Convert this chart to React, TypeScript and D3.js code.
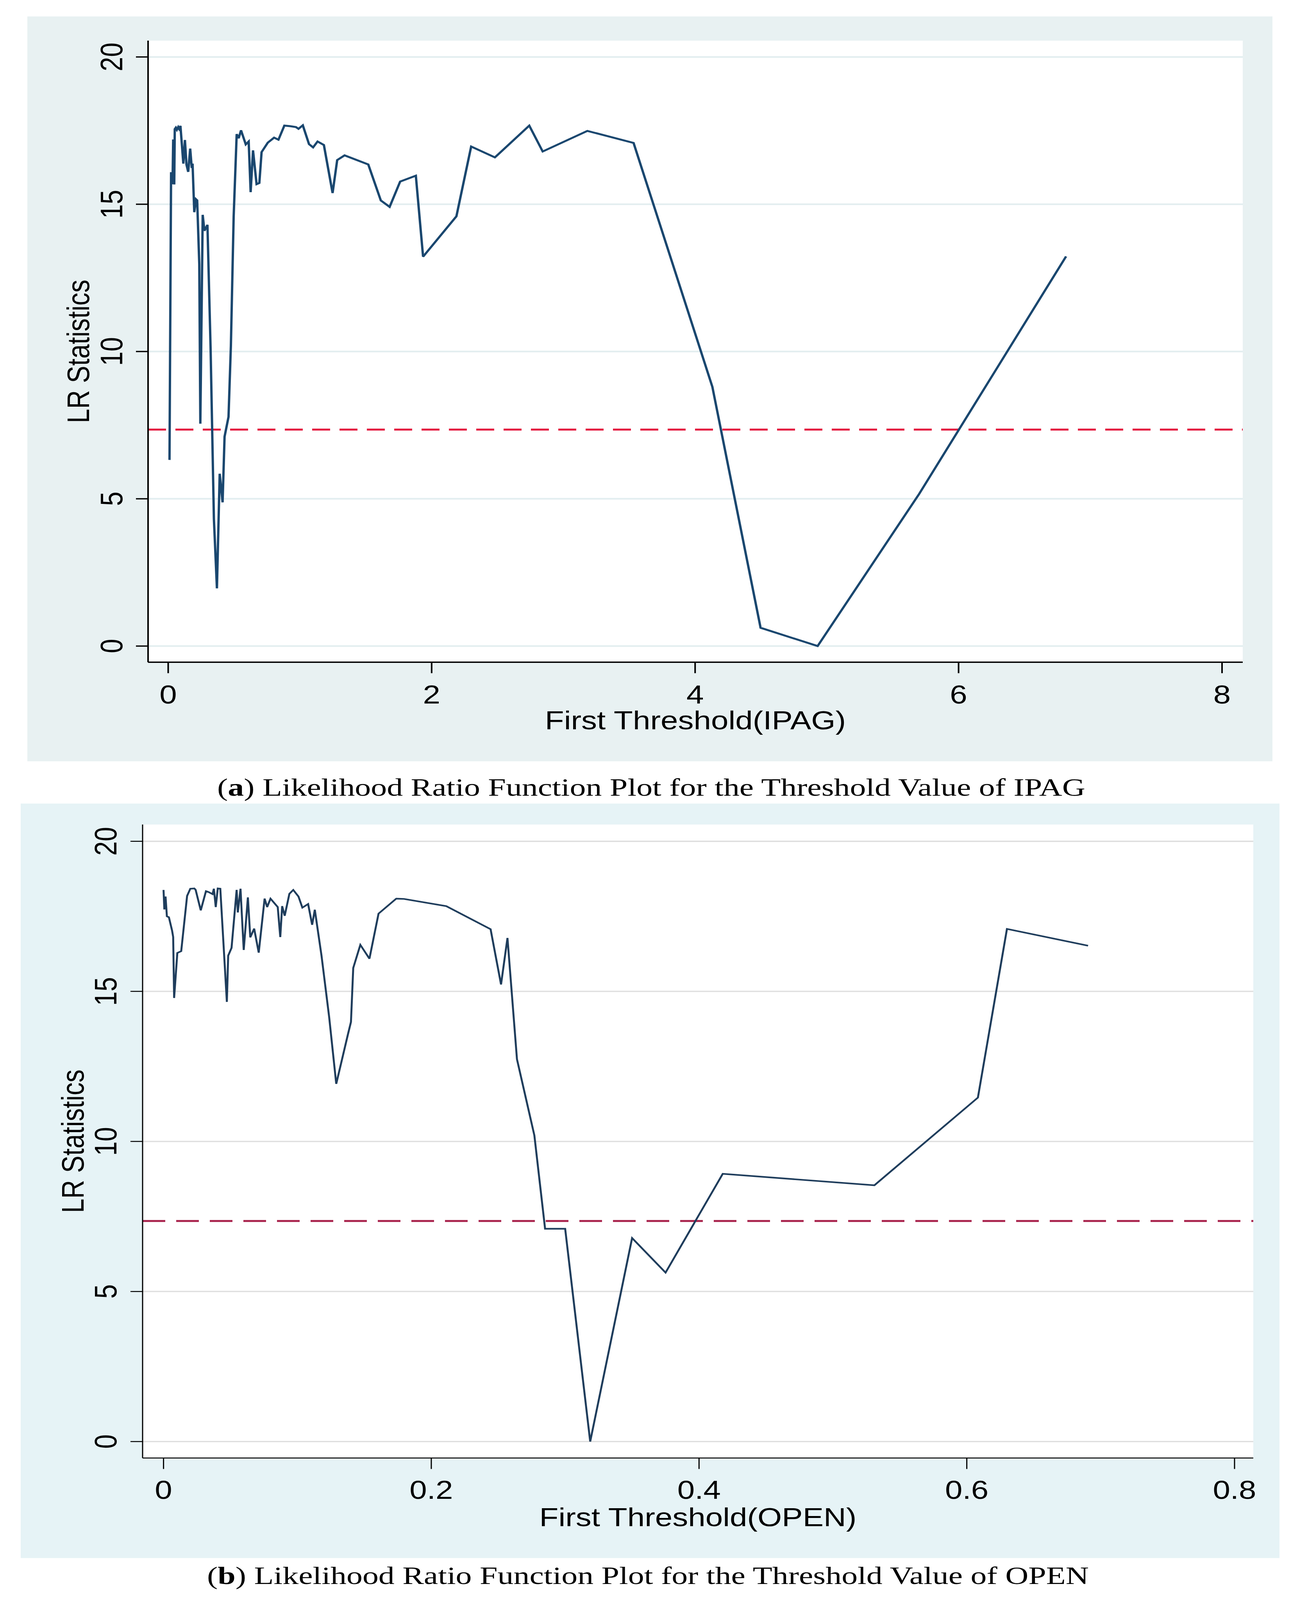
import * as d3 from "d3";

// LR statistic against the first threshold
const yTicks = [0, 5, 10, 15, 20];
const ipagTicks = [0, 2, 4, 6, 8];
const openTicks = [0, 0.2, 0.4, 0.6, 0.8];
const criticalLR = 7.35;

const ipagPoints: [number, number][] = [
  [0.01, 6.32], [0.022, 16.09], [0.033, 15.68], [0.038, 17.2], [0.046, 15.67],
  [0.05, 17.55], [0.058, 17.6], [0.066, 17.53], [0.076, 17.62], [0.083, 17.56],
  [0.093, 17.66], [0.115, 16.38], [0.127, 17.18], [0.139, 16.34], [0.152, 16.1],
  [0.167, 16.89], [0.179, 16.23], [0.185, 16.38], [0.198, 14.73], [0.211, 15.17],
  [0.22, 15.13], [0.236, 12.97], [0.244, 7.55], [0.262, 14.64], [0.275, 14.1],
  [0.298, 14.3], [0.322, 10.09], [0.347, 4.32], [0.37, 1.96], [0.391, 5.85],
  [0.413, 4.88], [0.428, 7.11], [0.458, 7.78], [0.476, 10.2], [0.497, 14.58],
  [0.52, 17.38], [0.535, 17.24], [0.553, 17.51], [0.589, 17.03], [0.611, 17.13],
  [0.626, 15.41], [0.644, 16.83], [0.671, 15.68], [0.692, 15.72], [0.709, 16.77],
  [0.756, 17.09], [0.804, 17.26], [0.837, 17.19], [0.882, 17.67], [0.926, 17.65],
  [0.97, 17.62], [0.989, 17.56], [1.022, 17.68], [1.069, 17.04], [1.1, 16.93],
  [1.134, 17.13], [1.182, 17.01], [1.248, 15.38], [1.283, 16.5], [1.339, 16.66],
  [1.519, 16.35], [1.614, 15.13], [1.681, 14.91], [1.761, 15.77], [1.88, 15.97],
  [1.935, 13.22], [2.188, 14.59], [2.3, 16.96], [2.48, 16.59], [2.741, 17.67],
  [2.843, 16.79], [3.182, 17.49], [3.533, 17.08], [4.131, 8.8], [4.497, 0.62],
  [4.93, 0.0], [5.7, 5.16], [6.816, 13.23],
];

const openPoints: [number, number][] = [
  [0.0, 18.38], [0.0006, 17.73], [0.0015, 18.16], [0.0025, 17.5], [0.004, 17.47],
  [0.0064, 17.02], [0.0072, 16.81], [0.0079, 14.78], [0.0103, 16.28], [0.0132, 16.34],
  [0.0176, 18.18], [0.02, 18.42], [0.023, 18.43], [0.024, 18.38], [0.0278, 17.7],
  [0.0317, 18.34], [0.0336, 18.31], [0.0366, 18.24], [0.0376, 18.42], [0.039, 17.81],
  [0.0405, 18.43], [0.0424, 18.42], [0.0473, 14.65], [0.0483, 16.19], [0.0508, 16.45],
  [0.0546, 18.38], [0.0555, 17.63], [0.0575, 18.42], [0.0584, 17.63], [0.0599, 16.38],
  [0.063, 18.13], [0.0648, 16.8], [0.0677, 17.09], [0.0711, 16.29], [0.0755, 18.09],
  [0.0774, 17.81], [0.0799, 18.09], [0.0853, 17.81], [0.0872, 16.81], [0.0886, 17.84],
  [0.0905, 17.52], [0.094, 18.25], [0.0969, 18.38], [0.1008, 18.16], [0.1037, 17.79],
  [0.108, 17.91], [0.111, 17.22], [0.113, 17.72], [0.118, 16.19], [0.1237, 14.15],
  [0.129, 11.92], [0.1378, 13.58], [0.14, 13.98], [0.1417, 15.78], [0.147, 16.55],
  [0.1538, 16.09], [0.1606, 17.59], [0.1738, 18.09], [0.1796, 18.08], [0.2112, 17.84],
  [0.2443, 17.07], [0.2521, 15.23], [0.2569, 16.78], [0.264, 12.74], [0.277, 10.2],
  [0.285, 7.09], [0.3, 7.09], [0.3187, 0.0], [0.35, 6.78], [0.375, 5.63],
  [0.4177, 8.92], [0.531, 8.54], [0.6083, 11.46], [0.63, 17.08], [0.6906, 16.52],
];

type PanelProps = {
  points: [number, number][];
  xTicks: number[];
  xMax: number;
  xTitle: string;
  letter: string;
  caption: string;
  captionWidth: number;
  // frame & scale geometry
  bg: { x0: number; y0: number; x1: number; y1: number };
  plot: { left: number; top: number; right: number; bottom: number };
  xRange: [number, number];
  yRange: [number, number];
  yLabelX: number;
  yTitleX: number;
  xLabelY: number;
  xTitleY: number;
  captionX: number;
  captionY: number;
  bgColor: string;
  gridColor: string;
  gridWidth: number;
  lineColor: string;
  lineWidth: number;
  axisWidth: number;
  refColor: string;
  dash: string;
};

const sans = "'Liberation Sans', Arial, sans-serif";
const serif = "'Liberation Serif', 'Times New Roman', serif";

function Panel(p: PanelProps) {
  const x = d3.scaleLinear().domain([0, p.xMax]).range(p.xRange);
  const y = d3.scaleLinear().domain([0, 20]).range(p.yRange);
  const line = d3
    .line<[number, number]>()
    .x((d) => x(d[0]))
    .y((d) => y(d[1]));

  const { left, top, right, bottom } = p.plot;
  const midY = (top + bottom) / 2;
  const midX = (left + right) / 2;

  return (
    <g>
      <rect
        x={p.bg.x0}
        y={p.bg.y0}
        width={p.bg.x1 - p.bg.x0}
        height={p.bg.y1 - p.bg.y0}
        fill={p.bgColor}
      />
      <rect x={left} y={top} width={right - left} height={bottom - top} fill="#ffffff" />

      {/* grid */}
      {yTicks.map((t) => (
        <line
          key={`g${t}`}
          x1={left}
          x2={right}
          y1={y(t)}
          y2={y(t)}
          stroke={p.gridColor}
          strokeWidth={p.gridWidth}
        />
      ))}

      {/* critical value */}
      <line
        x1={left}
        x2={right}
        y1={y(criticalLR)}
        y2={y(criticalLR)}
        stroke={p.refColor}
        strokeWidth={6}
        strokeDasharray={p.dash}
      />

      <path
        d={line(p.points) ?? ""}
        fill="none"
        stroke={p.lineColor}
        strokeWidth={p.lineWidth}
        strokeLinejoin="miter"
        strokeMiterlimit={3}
      />

      {/* axes */}
      <line x1={left} x2={left} y1={top} y2={bottom} stroke="#000" strokeWidth={p.axisWidth} />
      <line x1={left} x2={right} y1={bottom} y2={bottom} stroke="#000" strokeWidth={p.axisWidth} />

      {yTicks.map((t) => (
        <g key={`y${t}`}>
          <line x1={left - 31} x2={left} y1={y(t)} y2={y(t)} stroke="#000" strokeWidth={p.axisWidth} />
          <text
            transform={`translate(${p.yLabelX},${y(t)}) rotate(-90)`}
            textAnchor="middle"
            dominantBaseline="central"
            fontFamily={sans}
            fontSize={80}
            fill="#000"
          >
            {t}
          </text>
        </g>
      ))}

      {p.xTicks.map((t) => (
        <g key={`x${t}`}>
          <line x1={x(t)} x2={x(t)} y1={bottom} y2={bottom + 34} stroke="#000" strokeWidth={p.axisWidth} />
          <text
            x={x(t)}
            y={p.xLabelY}
            textAnchor="middle"
            dominantBaseline="central"
            fontFamily={sans}
            fontSize={80}
            fill="#000"
          >
            {String(t)}
          </text>
        </g>
      ))}

      <text
        x={midX}
        y={p.xTitleY}
        textAnchor="middle"
        dominantBaseline="central"
        fontFamily={sans}
        fontSize={80}
        fill="#000"
      >
        {p.xTitle}
      </text>
      <text
        transform={`translate(${p.yTitleX},${midY}) rotate(-90)`}
        textAnchor="middle"
        dominantBaseline="central"
        fontFamily={sans}
        fontSize={80}
        fill="#000"
      >
        LR Statistics
      </text>

      <text
        x={p.captionX}
        y={p.captionY}
        fontFamily={serif}
        fontSize={76}
        fill="#000"
        textLength={p.captionWidth}
        lengthAdjust="spacingAndGlyphs"
      >
        (<tspan fontWeight="bold">{p.letter}</tspan>) {p.caption}
      </text>
    </g>
  );
}

// the drawing is laid out on the 3325x4958 figure and stretched to whatever viewport is shown
export default function App() {
  return (
    <svg
      viewBox="0 0 3325 4958"
      preserveAspectRatio="none"
      style={{ position: "fixed", left: 0, top: 0, width: "100vw", height: "100vh", background: "#ffffff" }}
    >
      <Panel
        points={ipagPoints}
        xTicks={ipagTicks}
        xMax={8}
        xTitle="First Threshold(IPAG)"
        letter="a"
        caption="Likelihood Ratio Function Plot for the Threshold Value of IPAG"
        captionWidth={2222}
        bg={{ x0: 70, y0: 51, x1: 3257, y1: 2359 }}
        plot={{ left: 379, top: 126, right: 3181, bottom: 2052 }}
        xRange={[430.5, 3128]}
        yRange={[2002, 176.5]}
        yLabelX={286}
        yTitleX={201}
        xLabelY={2153}
        xTitleY={2233}
        captionX={556}
        captionY={2466}
        bgColor="#e8f1f2"
        gridColor="#e3eef0"
        gridWidth={5}
        lineColor="#1a476f"
        lineWidth={6}
        axisWidth={4}
        refColor="#e3173e"
        dash="46 24"
      />
      <Panel
        points={openPoints}
        xTicks={openTicks}
        xMax={0.8}
        xTitle="First Threshold(OPEN)"
        letter="b"
        caption="Likelihood Ratio Function Plot for the Threshold Value of OPEN"
        captionWidth={2257}
        bg={{ x0: 53, y0: 2490, x1: 3275, y1: 4828 }}
        plot={{ left: 365, top: 2555, right: 3208, bottom: 4518 }}
        xRange={[418.6, 3160]}
        yRange={[4467, 2607]}
        yLabelX={271}
        yTitleX={187}
        xLabelY={4617}
        xTitleY={4702}
        captionX={530}
        captionY={4908}
        bgColor="#e6f3f6"
        gridColor="#dedede"
        gridWidth={4}
        lineColor="#1f3d5c"
        lineWidth={5}
        axisWidth={3}
        refColor="#a8224b"
        dash="58 28"
      />
    </svg>
  );
}
